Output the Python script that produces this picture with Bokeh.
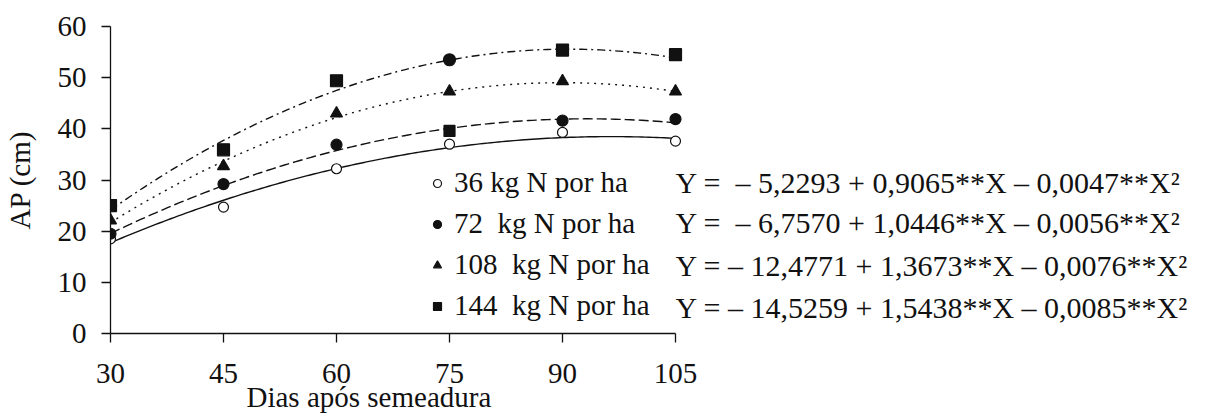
import numpy as np
from bokeh.plotting import figure
from bokeh.models import Range1d, FixedTicker, Label, Legend, LegendItem, ColumnDataSource, Title
from bokeh.embed import file_html
from bokeh.resources import INLINE

# ---------------- data ----------------
days = [30, 45, 60, 75, 90, 105]
ap_36 = [18.5, 24.7, 32.2, 37.0, 39.3, 37.6]
ap_72 = [19.5, 29.2, 36.9, 39.6, 41.6, 41.9]
ap_108 = [22.1, 32.7, 43.0, 47.3, 49.3, 47.3]
ap_144 = [25.0, 35.9, 49.4, 53.5, 55.4, 54.5]

markers_36 = ["circle", "circle", "circle", "circle", "circle", "circle"]
markers_72 = ["circle", "circle", "circle", "square", "circle", "circle"]
markers_108 = ["triangle", "triangle", "triangle", "triangle", "triangle", "triangle"]
markers_144 = ["square", "square", "square", "circle", "square", "square"]

series_names = ["36 kg N por ha", "72\u00a0\u00a0kg N por ha",
                "108\u00a0\u00a0kg N por ha", "144\u00a0\u00a0kg N por ha"]

# regression coefficients  Y = a + b X + c X^2
coef_a = [-5.2293, -6.7570, -12.4771, -14.5259]
coef_b = [0.9065, 1.0446, 1.3673, 1.5438]
coef_c = [-0.0047, -0.0056, -0.0076, -0.0085]

equations = [
    "Y =\u00a0\u00a0\u2013 5,2293 + 0,9065**X \u2013 0,0047**X\u00b2",
    "Y =\u00a0\u00a0\u2013 6,7570 + 1,0446**X \u2013 0,0056**X\u00b2",
    "Y = \u2013 12,4771 + 1,3673**X \u2013 0,0076**X\u00b2",
    "Y = \u2013 14,5259 + 1,5438**X \u2013 0,0085**X\u00b2",
]

x_ticks = [30, 45, 60, 75, 90, 105]
y_ticks = [0, 10, 20, 30, 40, 50, 60]
x_title = "Dias após semeadura"
y_title = "AP (cm)"

# ---------------- styling ----------------
FONT = "Liberation Serif"
TICK_FS = "29px"
TXT_FS = "29px"
EQ_FS = "30px"
INK = "#111111"

values = [ap_36, ap_72, ap_108, ap_144]
markers = [markers_36, markers_72, markers_108, markers_144]
dashes = ["solid", "10 4", "2 5", "8 4 2 4"]
fills = ["white", INK, INK, INK]
sizes = [10, 11, 12, 12]

FRAME_W = 1095
X_PER_PX = 75 / 565.0          # data units per pixel (30..105 over 565 px)
p = figure(frame_width=FRAME_W, frame_height=307, output_backend="svg",
           toolbar_location=None,
           x_range=Range1d(30, 30 + FRAME_W * X_PER_PX), y_range=Range1d(0, 60),
           min_border_left=109, min_border_right=2, min_border_top=26,
           min_border_bottom=80)
p.outline_line_color = None
p.grid.visible = False
p.background_fill_color = "white"
p.border_fill_color = "white"

# axes
xa = p.xaxis[0]
xa.ticker = FixedTicker(ticks=x_ticks)
xa.bounds = (30, 105)
ya = p.yaxis[0]
ya.ticker = FixedTicker(ticks=y_ticks)
for ax in (xa, ya):
    ax.axis_line_color = INK
    ax.axis_line_width = 1.3
    ax.major_tick_line_color = INK
    ax.major_tick_line_width = 1.3
    ax.major_tick_in = 0
    ax.major_tick_out = 9
    ax.minor_tick_line_color = None
    ax.major_label_text_font = FONT
    ax.major_label_text_font_size = TICK_FS
    ax.major_label_text_color = INK
ya.major_label_standoff = 15
xa.major_label_standoff = 21
ya.axis_label = y_title
ya.axis_label_text_font = FONT
ya.axis_label_text_font_size = TICK_FS
ya.axis_label_text_font_style = "normal"
ya.axis_label_text_color = INK
ya.axis_label_standoff = 19

# x-axis title (placed left of centre as in the original)
p.add_layout(Title(text=x_title, align="left", offset=136, standoff=-14,
                   text_font=FONT, text_font_size=TICK_FS, text_font_style="normal",
                   text_color=INK), "below")

# curves from the regression equations
xs = np.linspace(30, 105, 151)
items = []
for i in range(4):
    ys = coef_a[i] + coef_b[i] * xs + coef_c[i] * xs ** 2
    p.line(xs, ys, line_color=INK, line_width=1.4, line_dash=dashes[i])
for i in range(4):
    src = ColumnDataSource(dict(x=days, y=values[i], m=markers[i]))
    r = p.scatter("x", "y", source=src, marker="m", size=sizes[i],
                  fill_color=fills[i], line_color=INK, line_width=1.2)
    items.append(LegendItem(label=series_names[i], renderers=[r], index=0))

legend = Legend(items=items, location=(317, 11), orientation="vertical",
                glyph_width=20, glyph_height=20, label_height=20,
                label_standoff=7, spacing=8, padding=0, margin=0,
                border_line_color=None, background_fill_alpha=0,
                label_text_font=FONT, label_text_font_size=TXT_FS,
                label_text_color=INK)
p.add_layout(legend, "center")

# equations, one per legend row
eq_rows_y = [29.5, 21.7, 13.3, 5.1]
for i in range(4):
    p.add_layout(Label(x=105.0, y=eq_rows_y[i], text=equations[i],
                       text_font=FONT, text_font_size=EQ_FS, text_color=INK,
                       text_baseline="middle", text_align="left"))

open("out.html", "w").write(file_html(p, INLINE))
